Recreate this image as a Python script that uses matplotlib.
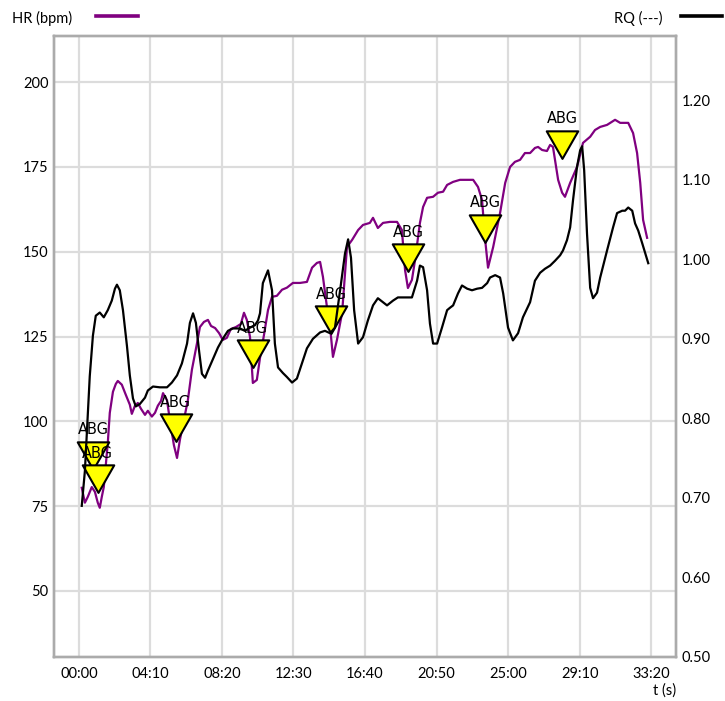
import matplotlib
matplotlib.use("Agg")
import matplotlib.pyplot as plt
from matplotlib.lines import Line2D
from matplotlib.path import Path
from matplotlib.ticker import FuncFormatter

plt.rcParams['font.family'] = ['Lato', 'DejaVu Sans']
plt.rcParams['font.size'] = 10.5

# heart rate (s, bpm)
hr_t = [10, 21, 31, 45, 56, 66, 73, 80, 87, 101, 108, 119, 129, 136, 150, 164, 178, 185,
        196, 206, 217, 231, 241, 255, 266, 276, 287, 294, 308, 318, 332, 343, 353, 367,
        381, 395, 413, 423, 437, 451, 462, 476, 490, 503, 517, 531, 549, 566, 577, 587,
        598, 608, 622, 633, 647, 661, 675, 692, 710, 727, 748, 773, 797, 815, 832, 843,
        853, 867, 878, 888, 902, 920, 937, 955, 976, 993, 1017, 1028, 1045, 1063, 1087,
        1112, 1129, 1140, 1150, 1164, 1175, 1192, 1203, 1217, 1238, 1255, 1273, 1287,
        1308, 1332, 1378, 1395, 1409, 1420, 1430, 1448, 1472, 1490, 1507, 1524, 1542,
        1559, 1577, 1594, 1605, 1619, 1636, 1647, 1657, 1675, 1689, 1699, 1717, 1741,
        1762, 1787, 1804, 1822, 1846, 1857, 1874, 1892, 1920, 1937, 1951, 1962, 1972, 1986]
hr_bpm = [80.4, 76.0, 77.7, 80.6, 79.2, 76.0, 74.5, 77.7, 80.6, 93.6, 102.5, 108.7, 111.0,
          111.9, 110.8, 107.8, 104.9, 102.2, 104.6, 105.4, 103.7, 101.9, 103.1, 101.4,
          102.5, 104.6, 106.0, 108.3, 106.2, 100.4, 93.0, 89.2, 94.5, 100.4, 106.3, 115.2,
          123.1, 127.8, 129.3, 129.9, 128.1, 127.5, 126.0, 124.0, 124.6, 127.2, 127.8,
          128.7, 132.0, 129.9, 124.9, 111.3, 112.2, 118.7, 125.5, 132.8, 136.7, 137.0,
          138.8, 139.4, 140.8, 140.8, 141.1, 145.3, 146.7, 147.0, 142.6, 133.7, 127.8,
          119.0, 124.0, 132.0, 151.4, 153.5, 156.4, 157.9, 158.5, 160.0, 157.0, 158.5,
          158.8, 158.8, 156.4, 144.6, 139.3, 141.7, 147.6, 158.5, 163.2, 165.9, 166.2,
          167.4, 167.7, 169.7, 170.6, 171.2, 171.2, 169.1, 165.3, 153.5, 145.3, 151.4,
          161.4, 170.3, 175.0, 176.5, 177.1, 179.1, 179.1, 180.6, 180.9, 180.0, 179.7,
          181.5, 180.9, 171.2, 167.4, 166.2, 170.3, 175.0, 182.1, 183.9, 185.9, 186.8,
          187.4, 188.0, 188.9, 188.0, 188.0, 185.0, 179.1, 170.3, 159.4, 154.1]

# respiratory quotient (s, ratio)
rq_t = [10, 21, 28, 38, 49, 59, 73, 87, 101, 115, 126, 133, 143, 154, 168, 178, 189, 199,
        213, 231, 241, 259, 283, 308, 325, 343, 360, 378, 388, 399, 409, 420, 430, 441,
        451, 469, 486, 503, 521, 538, 563, 580, 598, 615, 626, 633, 643, 661, 675, 685,
        696, 713, 727, 745, 762, 773, 797, 818, 843, 860, 878, 895, 913, 930, 941, 951,
        962, 976, 993, 1010, 1028, 1045, 1063, 1077, 1098, 1115, 1140, 1164, 1182, 1192,
        1203, 1217, 1227, 1238, 1252, 1269, 1287, 1297, 1308, 1325, 1339, 1357, 1374,
        1392, 1409, 1427, 1437, 1455, 1472, 1483, 1500, 1517, 1535, 1552, 1577, 1594,
        1612, 1629, 1647, 1664, 1682, 1692, 1706, 1717, 1727, 1741, 1752, 1759, 1766,
        1776, 1787, 1797, 1811, 1822, 1846, 1867, 1881, 1899, 1909, 1920, 1934, 1944,
        1955, 1969, 1990]
rq_val = [0.690, 0.734, 0.784, 0.853, 0.904, 0.929, 0.933, 0.927, 0.936, 0.948, 0.963,
          0.968, 0.961, 0.936, 0.891, 0.854, 0.825, 0.815, 0.818, 0.826, 0.835, 0.840,
          0.839, 0.839, 0.845, 0.854, 0.869, 0.894, 0.920, 0.932, 0.920, 0.885, 0.856,
          0.851, 0.860, 0.875, 0.889, 0.900, 0.910, 0.913, 0.913, 0.910, 0.914, 0.917,
          0.923, 0.932, 0.970, 0.986, 0.961, 0.894, 0.864, 0.857, 0.852, 0.845, 0.850,
          0.862, 0.888, 0.900, 0.908, 0.910, 0.907, 0.914, 0.961, 1.007, 1.025, 1.002,
          0.936, 0.894, 0.902, 0.923, 0.942, 0.951, 0.946, 0.942, 0.948, 0.952, 0.952,
          0.952, 0.973, 0.992, 0.990, 0.961, 0.919, 0.894, 0.894, 0.914, 0.936, 0.939,
          0.942, 0.957, 0.967, 0.963, 0.961, 0.963, 0.964, 0.970, 0.977, 0.980, 0.977,
          0.957, 0.914, 0.898, 0.907, 0.927, 0.946, 0.973, 0.983, 0.988, 0.992, 0.998,
          1.005, 1.011, 1.024, 1.040, 1.074, 1.116, 1.137, 1.142, 1.112, 1.032, 0.964,
          0.951, 0.958, 0.977, 1.011, 1.040, 1.058, 1.061, 1.061, 1.065, 1.061, 1.045,
          1.036, 1.020, 0.995]

# blood gas samples (s, position on HR axis)
abg_t = [49, 66, 339, 608, 881, 1152, 1420, 1689]
abg_y = [91.3, 84.4, 99.4, 121.2, 131.2, 149.5, 158.3, 183.0]

x_ticks = [0, 250, 500, 750, 1000, 1250, 1500, 1750, 2000]
hr_ticks = [50, 75, 100, 125, 150, 175, 200]
rq_ticks = [0.5, 0.6, 0.7, 0.8, 0.9, 1.0, 1.1, 1.2]

purple = '#800080'
frame = '#ababab'
grid = '#dcdcdc'

# flat-topped triangle pointing down, a bit wider than tall
abg_marker = Path([(-16, 9.3), (16, 9.3), (0, -18.7), (-16, 9.3)],
                  [Path.MOVETO, Path.LINETO, Path.LINETO, Path.CLOSEPOLY])

fig = plt.figure(figsize=(7.25, 7.01), dpi=100)
ax = fig.add_axes([54 / 725, 44 / 701, 622 / 725, 621.3 / 701])
ax2 = ax.twinx()

ax.plot(hr_t, hr_bpm, color=purple, lw=1.6, zorder=2)
ax.plot(abg_t, abg_y, ls='none', marker=abg_marker, ms=26.5, mfc='#ffff00', mec='black',
        mew=1.5, zorder=2.5)
for t, y in zip(abg_t, abg_y):
    ax.annotate('ABG', (t, y), xytext=(0, 12), textcoords='offset points',
                ha='center', va='baseline', fontsize=10.5, family='DejaVu Sans', zorder=3)

ax2.plot(rq_t, rq_val, color='black', lw=1.6)

ax.set_xlim(-87, 2087)
ax.set_ylim(30.5, 213.7)
ax2.set_ylim(0.5, 1.281)

ax.set_xticks(x_ticks)
ax.xaxis.set_major_formatter(FuncFormatter(lambda v, p: f"{int(v) // 60:02d}:{int(v) % 60:02d}"))
ax.set_yticks(hr_ticks)
ax2.set_yticks(rq_ticks)
ax2.yaxis.set_major_formatter(FuncFormatter(lambda v, p: f"{v:.2f}"))

ax.grid(True, color=grid, lw=1.6)
ax.set_axisbelow(True)
ax.tick_params(length=0, pad=4)
ax.tick_params(axis='x', pad=7)
ax2.tick_params(length=0, pad=4)
for a in (ax, ax2):
    for s in a.spines.values():
        s.set_color(frame)
        s.set_linewidth(1.7)

ax.set_xlabel('t (s)', loc='right', labelpad=2)

# legend drawn across the top
fig.text(12 / 725, 1 - 18 / 701, 'HR (bpm)', va='center', ha='left')
fig.add_artist(Line2D([96 / 725, 138 / 725], [1 - 16 / 701] * 2, color=purple, lw=2.6))
fig.text(614 / 725, 1 - 18 / 701, 'RQ (---)', va='center', ha='left')
fig.add_artist(Line2D([681 / 725, 722 / 725], [1 - 16 / 701] * 2, color='black', lw=2.6))

fig.savefig('out.png', dpi=100)
